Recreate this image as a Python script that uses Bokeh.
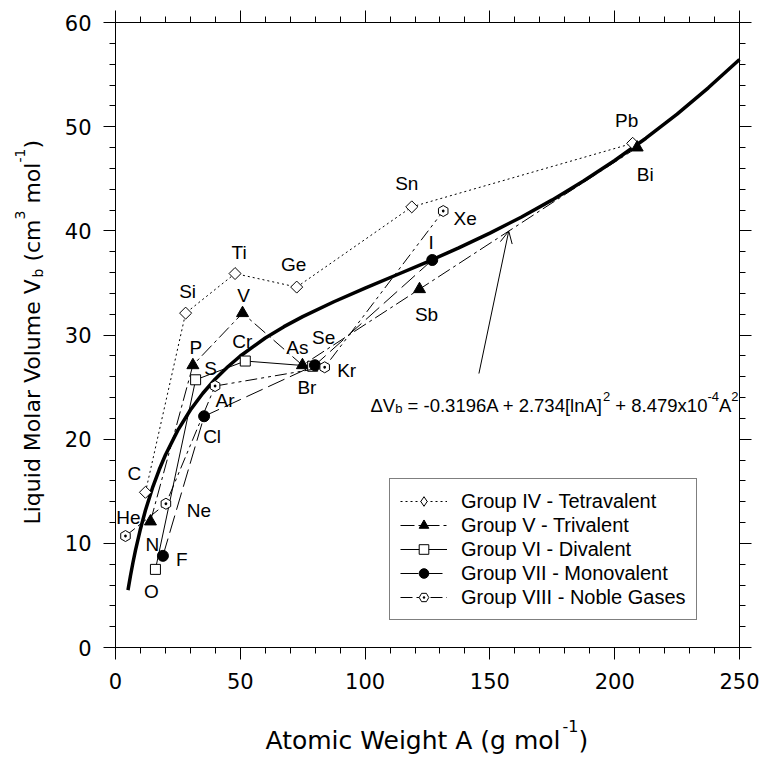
import numpy as np
from bokeh.plotting import figure
from bokeh.models import (Range1d, FixedTicker, LinearAxis, Label, Legend,
                          LegendItem, Arrow, OpenHead)
from bokeh.embed import file_html
from bokeh.resources import INLINE

# ---------------- data ----------------
g4_el = ["C", "Si", "Ti", "Ge", "Sn", "Pb"]
g4_A = [12.0, 28.1, 47.9, 72.6, 118.7, 207.2]
g4_V = [14.9, 32.1, 35.9, 34.6, 42.3, 48.4]

g5_el = ["N", "P", "V", "As", "Sb", "Bi"]
g5_A = [14.0, 31.0, 50.9, 74.9, 121.8, 209.0]
g5_V = [12.1, 27.1, 32.1, 27.1, 34.4, 48.0]

g6_el = ["O", "S", "Cr", "Se"]
g6_A = [16.0, 32.1, 52.0, 79.0]
g6_V = [7.5, 25.7, 27.5, 27.0]

g7_el = ["F", "Cl", "Br", "I"]
g7_A = [19.0, 35.5, 79.9, 126.9]
g7_V = [8.8, 22.2, 27.1, 37.2]

g8_el = ["He", "Ne", "Ar", "Kr", "Xe"]
g8_A = [4.0, 20.2, 39.9, 83.8, 131.3]
g8_V = [10.7, 13.8, 25.1, 26.9, 41.9]

# thick fitted curve
fit_A = [5, 6, 7, 8, 10, 12, 15, 17.5, 20, 25, 30, 35, 40, 45, 50, 60, 67.5,
         75, 87.5, 100, 112.5, 125, 137.5, 150, 162.5, 175, 187.5, 200,
         212.5, 225, 237.5, 250]
fit_V = [5.51, 6.89, 8.16, 9.32, 11.38, 13.17, 15.45, 17.06, 18.48, 20.87,
         22.80, 24.41, 25.78, 26.95, 27.98, 29.71, 30.80, 31.76, 33.19, 34.50,
         35.76, 37.03, 38.36, 39.78, 41.31, 42.97, 44.78, 46.75, 48.89, 51.21,
         53.73, 56.45]

x_ticks = [0, 50, 100, 150, 200, 250]
x_minor = list(range(0, 251, 10))
y_ticks = [0, 10, 20, 30, 40, 50, 60]
y_minor = list(range(0, 61, 2))
X_MIN, X_MAX = 0, 250
Y_MIN, Y_MAX = 0, 60

legend_labels = ["Group IV - Tetravalent", "Group V - Trivalent",
                 "Group VI - Divalent", "Group VII - Monovalent",
                 "Group VIII - Noble Gases"]

# ---------------- layout constants ----------------
W, H = 760, 759
FR_L, FR_R, FR_T, FR_B = 115, 739, 22, 647     # plot box in pixels
LBL_FONT = "Liberation Sans"
AX_FONT = "DejaVu Sans"
NB = "\u00a0"

sx = (FR_R - FR_L) / (X_MAX - X_MIN)
sy = (FR_B - FR_T) / (Y_MAX - Y_MIN)

label_offsets = {
    "C": (-11, 19), "Si": (2, 22), "Ti": (4, 21), "Ge": (-3, 23), "Sn": (-5, 23),
    "Pb": (-6, 23),
    "N": (2, -23), "P": (3, 18), "V": (1, 18), "As": (-5, 18), "Sb": (7, -25),
    "Bi": (8, -27),
    "O": (-4, -22), "S": (15, 11), "Cr": (-3, 20), "Se": (11, 29),
    "F": (19, -4), "Cl": (8, -20), "Br": (-8, -22), "I": (-1, 18),
    "He": (3, 19), "Ne": (33, -7), "Ar": (10, -14), "Kr": (22, -3), "Xe": (22, -7),
}

# the frame fills the whole canvas; the visible box is drawn by fixed axes
p = figure(width=W, height=H,
           x_range=Range1d(X_MIN - FR_L / sx, X_MAX + (W - FR_R) / sx),
           y_range=Range1d(Y_MIN - (H - FR_B) / sy, Y_MAX + FR_T / sy),
           x_axis_type=None, y_axis_type=None,
           output_backend="svg", toolbar_location=None,
           min_border_left=0, min_border_right=0, min_border_top=0,
           min_border_bottom=0)
p.grid.visible = False
p.outline_line_color = None
p.background_fill_color = "white"
p.border_fill_color = "white"


def make_axis(ticks, minor, loc, bounds, show_labels, standoff):
    ax = LinearAxis(fixed_location=loc, bounds=bounds)
    ax.ticker = FixedTicker(ticks=ticks, minor_ticks=minor)
    ax.major_tick_out = 12
    ax.major_tick_in = 0
    ax.minor_tick_out = 6
    ax.minor_tick_in = 0
    ax.axis_line_color = "black"
    ax.axis_line_width = 1
    ax.major_tick_line_color = "black"
    ax.minor_tick_line_color = "black"
    ax.major_label_text_font = AX_FONT
    ax.major_label_text_font_size = "21px"
    ax.major_label_standoff = standoff
    ax.major_label_text_color = "black" if show_labels else None
    return ax


p.add_layout(make_axis(x_ticks, x_minor, Y_MIN, (X_MIN, X_MAX), True, 13), "below")
p.add_layout(make_axis(y_ticks, y_minor, X_MIN, (Y_MIN, Y_MAX), True, 12), "left")
p.add_layout(make_axis(x_ticks, x_minor, Y_MAX, (X_MIN, X_MAX), False, 0), "above")
p.add_layout(make_axis(y_ticks, y_minor, X_MAX, (Y_MIN, Y_MAX), False, 0), "right")

# fitted curve
p.line(fit_A, fit_V, line_width=3.5, line_color="black")

groups = [
    (g4_el, g4_A, g4_V, "2 3", dict(marker="square", size=8.5, angle=np.pi / 4,
                                    fill_color="white")),
    (g5_el, g5_A, g5_V, "14 4 3 4", dict(marker="triangle", size=12,
                                         fill_color="black")),
    (g6_el, g6_A, g6_V, "solid", dict(marker="square", size=10, fill_color="white")),
    (g7_el, g7_A, g7_V, "18 6", dict(marker="circle", size=11, fill_color="black")),
    (g8_el, g8_A, g8_V, "12 4 3 4 3 4", dict(marker="hex_dot", size=11,
                                             angle=np.pi / 6, fill_color="white")),
]

items = []
for gi, ((els, A, V, dash, mk), name) in enumerate(zip(groups, legend_labels)):
    lr = p.line(A, V, line_color="black", line_width=1, line_dash=dash)
    sr = p.scatter(A, V, line_color="black", line_width=1, **mk)
    rs = [lr, sr]
    if gi == 0:
        # legend swatch shape (the legend ignores marker rotation); hidden on plot
        sw = p.scatter(A, V, marker="diamond", size=14, line_color="black",
                       fill_color="white", line_width=1, visible=False)
        rs = [lr, sw]
    items.append(LegendItem(label=name, renderers=rs))
    for el, a, v in zip(els, A, V):
        dx, dy = label_offsets[el]
        p.add_layout(Label(x=a, y=v, x_offset=dx, y_offset=dy, text=el,
                           text_align="center", text_baseline="middle",
                           text_font=LBL_FONT, text_font_size="19px",
                           text_color="black"))

legend = Legend(items=items, location=(389, H - 620))
legend.border_line_color = "black"
legend.border_line_width = 1
legend.background_fill_color = "white"
legend.background_fill_alpha = 1
legend.inactive_fill_alpha = 0
legend.label_text_font = LBL_FONT
legend.label_text_font_size = "20px"
legend.label_text_color = "black"
legend.glyph_width = 47
legend.glyph_height = 24
legend.label_height = 24
legend.label_standoff = 14
legend.padding = 10
legend.spacing = 0
legend.margin = 0
p.add_layout(legend)

# arrow from the formula to the Sb-Bi segment
t_tip = 0.41
tip_A = g5_A[4] + t_tip * (g5_A[5] - g5_A[4])
tip_V = g5_V[4] + t_tip * (g5_V[5] - g5_V[4])
p.add_layout(Arrow(end=OpenHead(size=12, line_width=1, line_color="black"),
                   x_start=145.6, y_start=26.3, x_end=tip_A, y_end=tip_V,
                   line_width=1, line_color="black"))

# ---------------- rich text helper ----------------
W_ARIAL = {' ': 278, NB: 278, '(': 333, ')': 333, '[': 278, ']': 278, '+': 584,
           '-': 333, '=': 584, '.': 278, 'A': 667, 'L': 556, 'M': 833, 'V': 667,
           'W': 944, 'Δ': 668, 'a': 556, 'b': 556, 'c': 500, 'd': 556, 'e': 556,
           'g': 556, 'h': 556, 'i': 222, 'l': 222, 'm': 833, 'n': 556, 'o': 556,
           'q': 556, 'r': 333, 't': 278, 'u': 556, 'x': 500}
for d in "0123456789":
    W_ARIAL[d] = 556
W_DEJAVU = {' ': 318, NB: 318, '(': 390, ')': 390, '-': 361, 'A': 684, 'L': 557,
            'M': 863, 'V': 684, 'W': 989, 'a': 613, 'b': 635, 'c': 550, 'd': 635,
            'e': 615, 'g': 635, 'h': 634, 'i': 278, 'l': 278, 'm': 974, 'o': 612,
            'q': 635, 'r': 411, 't': 392, 'u': 634}
for d in "0123456789":
    W_DEJAVU[d] = 636


def rich(pieces, x0, y0, font, size, small, widths, sup_k, sub_k, angle=0):
    """Place text pieces (normal / sup / sub) one after another.
    x0, y0: pixel offsets from the bottom-left corner of the plot box."""
    adv = 0.0
    for text, kind in pieces:
        fs = size if kind == "n" else small
        shift = 0.0
        if kind == "sup":
            shift = sup_k * size
        elif kind == "sub":
            shift = -sub_k * size
        if angle == 0:
            xo, yo = x0 + adv, y0 + shift
        else:
            xo, yo = x0 - shift, y0 + adv
        p.add_layout(Label(x=X_MIN, y=Y_MIN, x_offset=xo, y_offset=yo, text=text,
                           angle=angle, angle_units="deg", text_font=font,
                           text_font_size=f"{fs}px", text_color="black",
                           text_baseline="alphabetic", text_align="left"))
        adv += sum(widths.get(c, 556) for c in text) / 1000.0 * fs


# x axis title
rich([("Atomic Weight A (g mol", "n"), ("-1", "sup"), (")", "n")],
     265 - FR_L, FR_B - 740, AX_FONT, 25, 16, W_DEJAVU, 0.6, 0.2)
# y axis title
rich([("Liquid Molar Volume V", "n"), ("b", "sub"), (NB + "(cm", "n"), ("3", "sup"),
      (NB + "mol", "n"), ("-1", "sup"), (")", "n")],
     32 - FR_L, FR_B - 524, AX_FONT, 22, 14, W_DEJAVU, 0.55, 0.25, angle=90)
# formula
rich([("ΔV", "n"), ("b", "sub"), (NB + "=" + NB + "-0.3196A + 2.734[lnA]", "n"),
      ("2", "sup"), (NB + "+" + NB + "8.479x10", "n"), ("-4", "sup"), ("A", "n"),
      ("2", "sup")],
     370 - FR_L, FR_B - 405, LBL_FONT, 18.5, 13, W_ARIAL, 0.47, 0.17)

open("out.html", "w").write(file_html(p, INLINE))
